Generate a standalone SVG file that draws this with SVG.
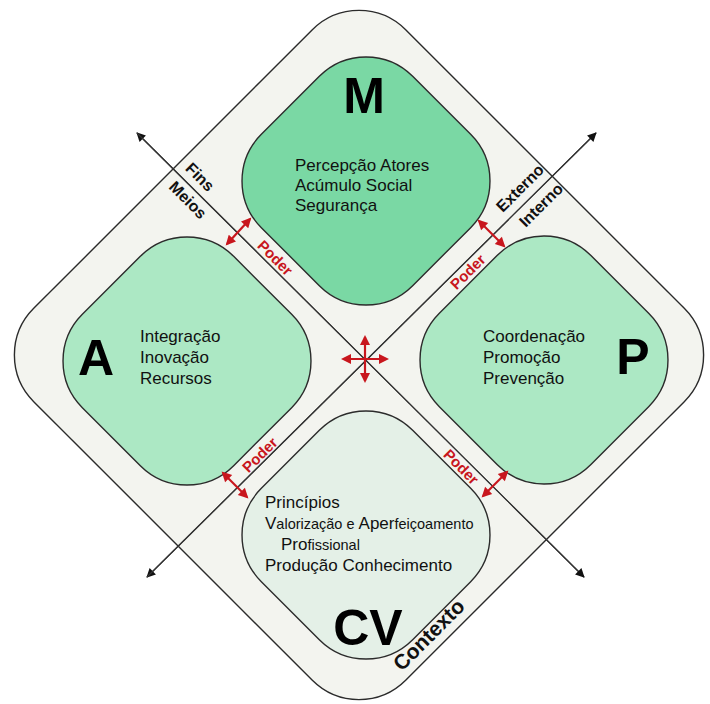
<svg xmlns="http://www.w3.org/2000/svg" width="710" height="704" viewBox="0 0 710 704">
<style>
.shape{stroke:#2b2b2b;stroke-width:1.4}
.body{font-family:"Liberation Sans",Arial,sans-serif;font-size:17px;fill:#111}
.sm{font-size:14.5px}
.big{font-family:"Liberation Sans",Arial,sans-serif;font-size:50px;font-weight:bold;fill:#000}
.lbl{font-family:"Liberation Sans",Arial,sans-serif;font-size:16px;font-weight:bold;fill:#111}
.poder{font-family:"Liberation Sans",Arial,sans-serif;font-size:15px;font-weight:bold;fill:#c8161d}
.axis{stroke:#333;stroke-width:1.2;fill:none}
.red{stroke:#c8161d;stroke-width:2.2;fill:none}
</style>
<defs>
<marker id="ah" viewBox="0 0 10 10" refX="9" refY="5" markerWidth="11" markerHeight="9" markerUnits="userSpaceOnUse" orient="auto">
<path d="M0,0 L10,5 L0,10 Z" fill="#111"/>
</marker>
<marker id="rh" viewBox="0 0 10 10" refX="8" refY="5" markerWidth="11" markerHeight="10" markerUnits="userSpaceOnUse" orient="auto-start-reverse">
<path d="M0,0 L10,5 L0,10 Z" fill="#c8161d"/>
</marker>
</defs>
<rect width="710" height="704" fill="#fff"/>
<g id="contexto">
<rect class="shape" x="96" y="92" width="526" height="526" rx="66" fill="#f3f4ef" transform="rotate(45 359 355)"/>
<text class="lbl" style="font-size:21px" text-anchor="middle" transform="translate(429 635) rotate(-45)" y="7">Contexto</text>
</g>
<g id="M">
<rect class="shape" x="259" y="74" width="214" height="214" rx="66" fill="#7ad8a4" transform="rotate(45 366 181)"/>
<text class="big" x="364" y="113" text-anchor="middle">M</text>
<text class="body" x="295" y="171">Percepção Atores</text>
<text class="body" x="295" y="191">Acúmulo Social</text>
<text class="body" x="295" y="211">Segurança</text>
</g>
<g id="A">
<rect class="shape" x="80" y="254" width="214" height="214" rx="66" fill="#ace8c4" transform="rotate(45 187 361)"/>
<text class="big" x="96" y="375" text-anchor="middle">A</text>
<text class="body" x="140" y="342">Integração</text>
<text class="body" x="140" y="363">Inovação</text>
<text class="body" x="140" y="384">Recursos</text>
</g>
<g id="P">
<rect class="shape" x="437" y="253" width="214" height="214" rx="66" fill="#ace8c4" transform="rotate(45 544 360)"/>
<text class="big" x="633" y="374" text-anchor="middle">P</text>
<text class="body" x="483" y="342">Coordenação</text>
<text class="body" x="483" y="363">Promoção</text>
<text class="body" x="483" y="384">Prevenção</text>
</g>
<g id="CV">
<rect class="shape" x="259" y="428" width="214" height="214" rx="66" fill="#e4f0e7" transform="rotate(45 366 535)"/>
<text class="big" x="368" y="645" text-anchor="middle">CV</text>
<text class="body" x="265" y="508">Princípios</text>
<text class="body" x="265" y="529">V<tspan class="sm">alorização e </tspan>Aper<tspan class="sm">feiçoamento</tspan></text>
<text class="body" x="281" y="550">Pro<tspan class="sm">fissional</tspan></text>
<text class="body" x="265" y="571">Produção Conhecimento</text>
</g>
<g id="connectors">
<line class="axis" x1="584" y1="577" x2="137" y2="133" marker-end="url(#ah)"/>
<line class="axis" x1="137" y1="133" x2="584" y2="577" marker-end="url(#ah)"/>
<line class="axis" x1="596" y1="133" x2="147" y2="577" marker-end="url(#ah)"/>
<line class="axis" x1="147" y1="577" x2="596" y2="133" marker-end="url(#ah)"/>
<line class="red" x1="227" y1="244" x2="250" y2="219" marker-start="url(#rh)" marker-end="url(#rh)"/>
<line class="red" x1="479" y1="221" x2="504" y2="246" marker-start="url(#rh)" marker-end="url(#rh)"/>
<line class="red" x1="223" y1="473" x2="247" y2="497" marker-start="url(#rh)" marker-end="url(#rh)"/>
<line class="red" x1="507" y1="472" x2="483" y2="496" marker-start="url(#rh)" marker-end="url(#rh)"/>
<line class="red" x1="343" y1="359" x2="387" y2="359" marker-start="url(#rh)" marker-end="url(#rh)"/>
<line class="red" x1="365" y1="337" x2="365" y2="381" marker-start="url(#rh)" marker-end="url(#rh)"/>
</g>
<g id="labels">
<text class="lbl" text-anchor="middle" transform="translate(200 177) rotate(45)" y="5.5">Fins</text>
<text class="lbl" text-anchor="middle" transform="translate(188 200) rotate(45)" y="5.5">Meios</text>
<text class="lbl" text-anchor="middle" transform="translate(520 188) rotate(-45)" y="5.5">Externo</text>
<text class="lbl" text-anchor="middle" transform="translate(541 205) rotate(-45)" y="5.5">Interno</text>
<text class="poder" text-anchor="middle" transform="translate(275 258) rotate(45)" y="5">Poder</text>
<text class="poder" text-anchor="middle" transform="translate(468 272) rotate(-45)" y="5">Poder</text>
<text class="poder" text-anchor="middle" transform="translate(260 455) rotate(-45)" y="5">Poder</text>
<text class="poder" text-anchor="middle" transform="translate(461 467) rotate(45)" y="5">Poder</text>
</g>
</svg>
